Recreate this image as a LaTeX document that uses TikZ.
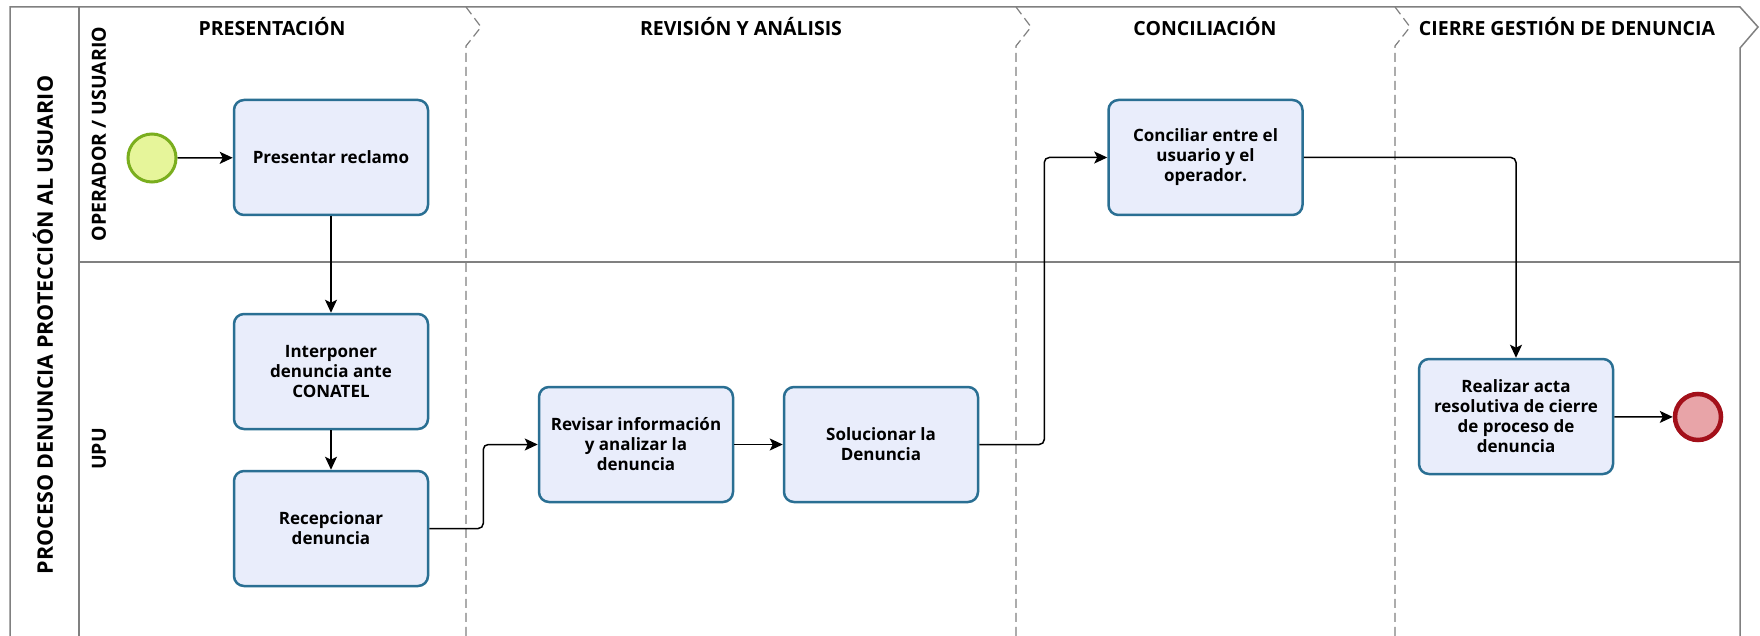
\documentclass[tikz,border=0pt]{standalone}
\usepackage{fontspec}
\setmainfont{Open Sans}
\usetikzlibrary{arrows.meta}
\definecolor{taskline}{HTML}{2A6F93}
\definecolor{taskfill}{HTML}{E9EDFB}
\definecolor{startline}{HTML}{7AAE1E}
\definecolor{startfill}{HTML}{E6F59A}
\definecolor{endline}{HTML}{A3101A}
\definecolor{endfill}{HTML}{E8A4A8}
\definecolor{framegray}{HTML}{808080}
\begin{document}
\begin{tikzpicture}[x=1pt,y=-1pt,
  task/.style={draw=taskline, fill=taskfill, line width=2.5pt, rounded corners=10pt,
    minimum width=194pt, minimum height=115pt, align=center, inner sep=2pt,
    font=\bfseries\fontsize{17}{20}\selectfont},
  startev/.style={circle, draw=startline, fill=startfill, line width=3pt, minimum size=48pt, inner sep=0pt},
  endev/.style={circle, draw=endline, fill=endfill, line width=4.5pt, minimum size=46pt, inner sep=0pt},
  flow/.style={draw=black, line width=1.5pt, -{Stealth[length=13pt,width=12pt,inset=3pt]}, rounded corners=5pt},
  frame/.style={draw=framegray, line width=1.5pt},
  phaseline/.style={draw=framegray, line width=1.2pt, dash pattern=on 9pt off 5pt},
  hdr/.style={font=\bfseries\fontsize{19.5}{22}\selectfont},
  lanelbl/.style={rotate=90, font=\bfseries\fontsize{19.5}{22}\selectfont},
  pooltitle/.style={rotate=90, font=\bfseries\fontsize{21.5}{24}\selectfont}]

\useasboundingbox (0,0) rectangle (1760,636);
\fill[white] (0,0) rectangle (1760,636);

% pool frame and lanes
\draw[frame] (10,636) -- (10,7) -- (1740,7) -- (1758,27) -- (1740,48) -- (1740,636);
\draw[frame] (79,7) -- (79,636);
\draw[frame] (79,262) -- (1740,262);

% phase separators
\foreach \x in {466,1016,1395}
  \draw[phaseline] (\x,7) -- (\x+15,27) -- (\x,46) -- (\x,636);

% titles
\node[pooltitle] (pool) at (43,325) {PROCESO DENUNCIA PROTECCIÓN AL USUARIO};
\node[lanelbl] (laneA) at (99,134) {OPERADOR / USUARIO};
\node[lanelbl] (laneB) at (99,449) {UPU};

\node[hdr] (ph1) at (272,27) {PRESENTACIÓN};
\node[hdr] (ph2) at (741,27) {REVISIÓN Y ANÁLISIS};
\node[hdr] (ph3) at (1205,27) {CONCILIACIÓN};
\node[hdr] (ph4) at (1567,27) {CIERRE GESTIÓN DE DENUNCIA};

% events and tasks
\node[startev] (start) at (152,158) {};
\node[task] (t1) at (331,157.5) {Presentar reclamo};
\node[task] (t2) at (331,371.5) {Interponer\\denuncia ante\\CONATEL};
\node[task] (t3) at (331,528.5) {Recepcionar\\denuncia};
\node[task] (t4) at (636,444.5) {Revisar información\\y analizar la\\denuncia};
\node[task] (t5) at (881,444.5) {Solucionar la\\Denuncia};
\node[task] (t6) at (1205.5,157.5) {Conciliar entre el\\usuario y el\\operador.};
\node[task] (t7) at (1516,416.5) {Realizar acta\\resolutiva de cierre\\de proceso de\\denuncia};
\node[endev] (finish) at (1698,417) {};

% sequence flows
\draw[flow] (start) -- (t1);
\draw[flow] (t1) -- (t2);
\draw[flow] (t2) -- (t3);
\draw[flow] (t3.east) -- ++(54,0) |- (t4.west);
\draw[flow] (t4) -- (t5);
\draw[flow] (t5.east) -- ++(65,0) |- (t6.west);
\draw[flow] (t6.east) -| (t7.north);
\draw[flow] (t7) -- (finish);
\end{tikzpicture}
\end{document}
